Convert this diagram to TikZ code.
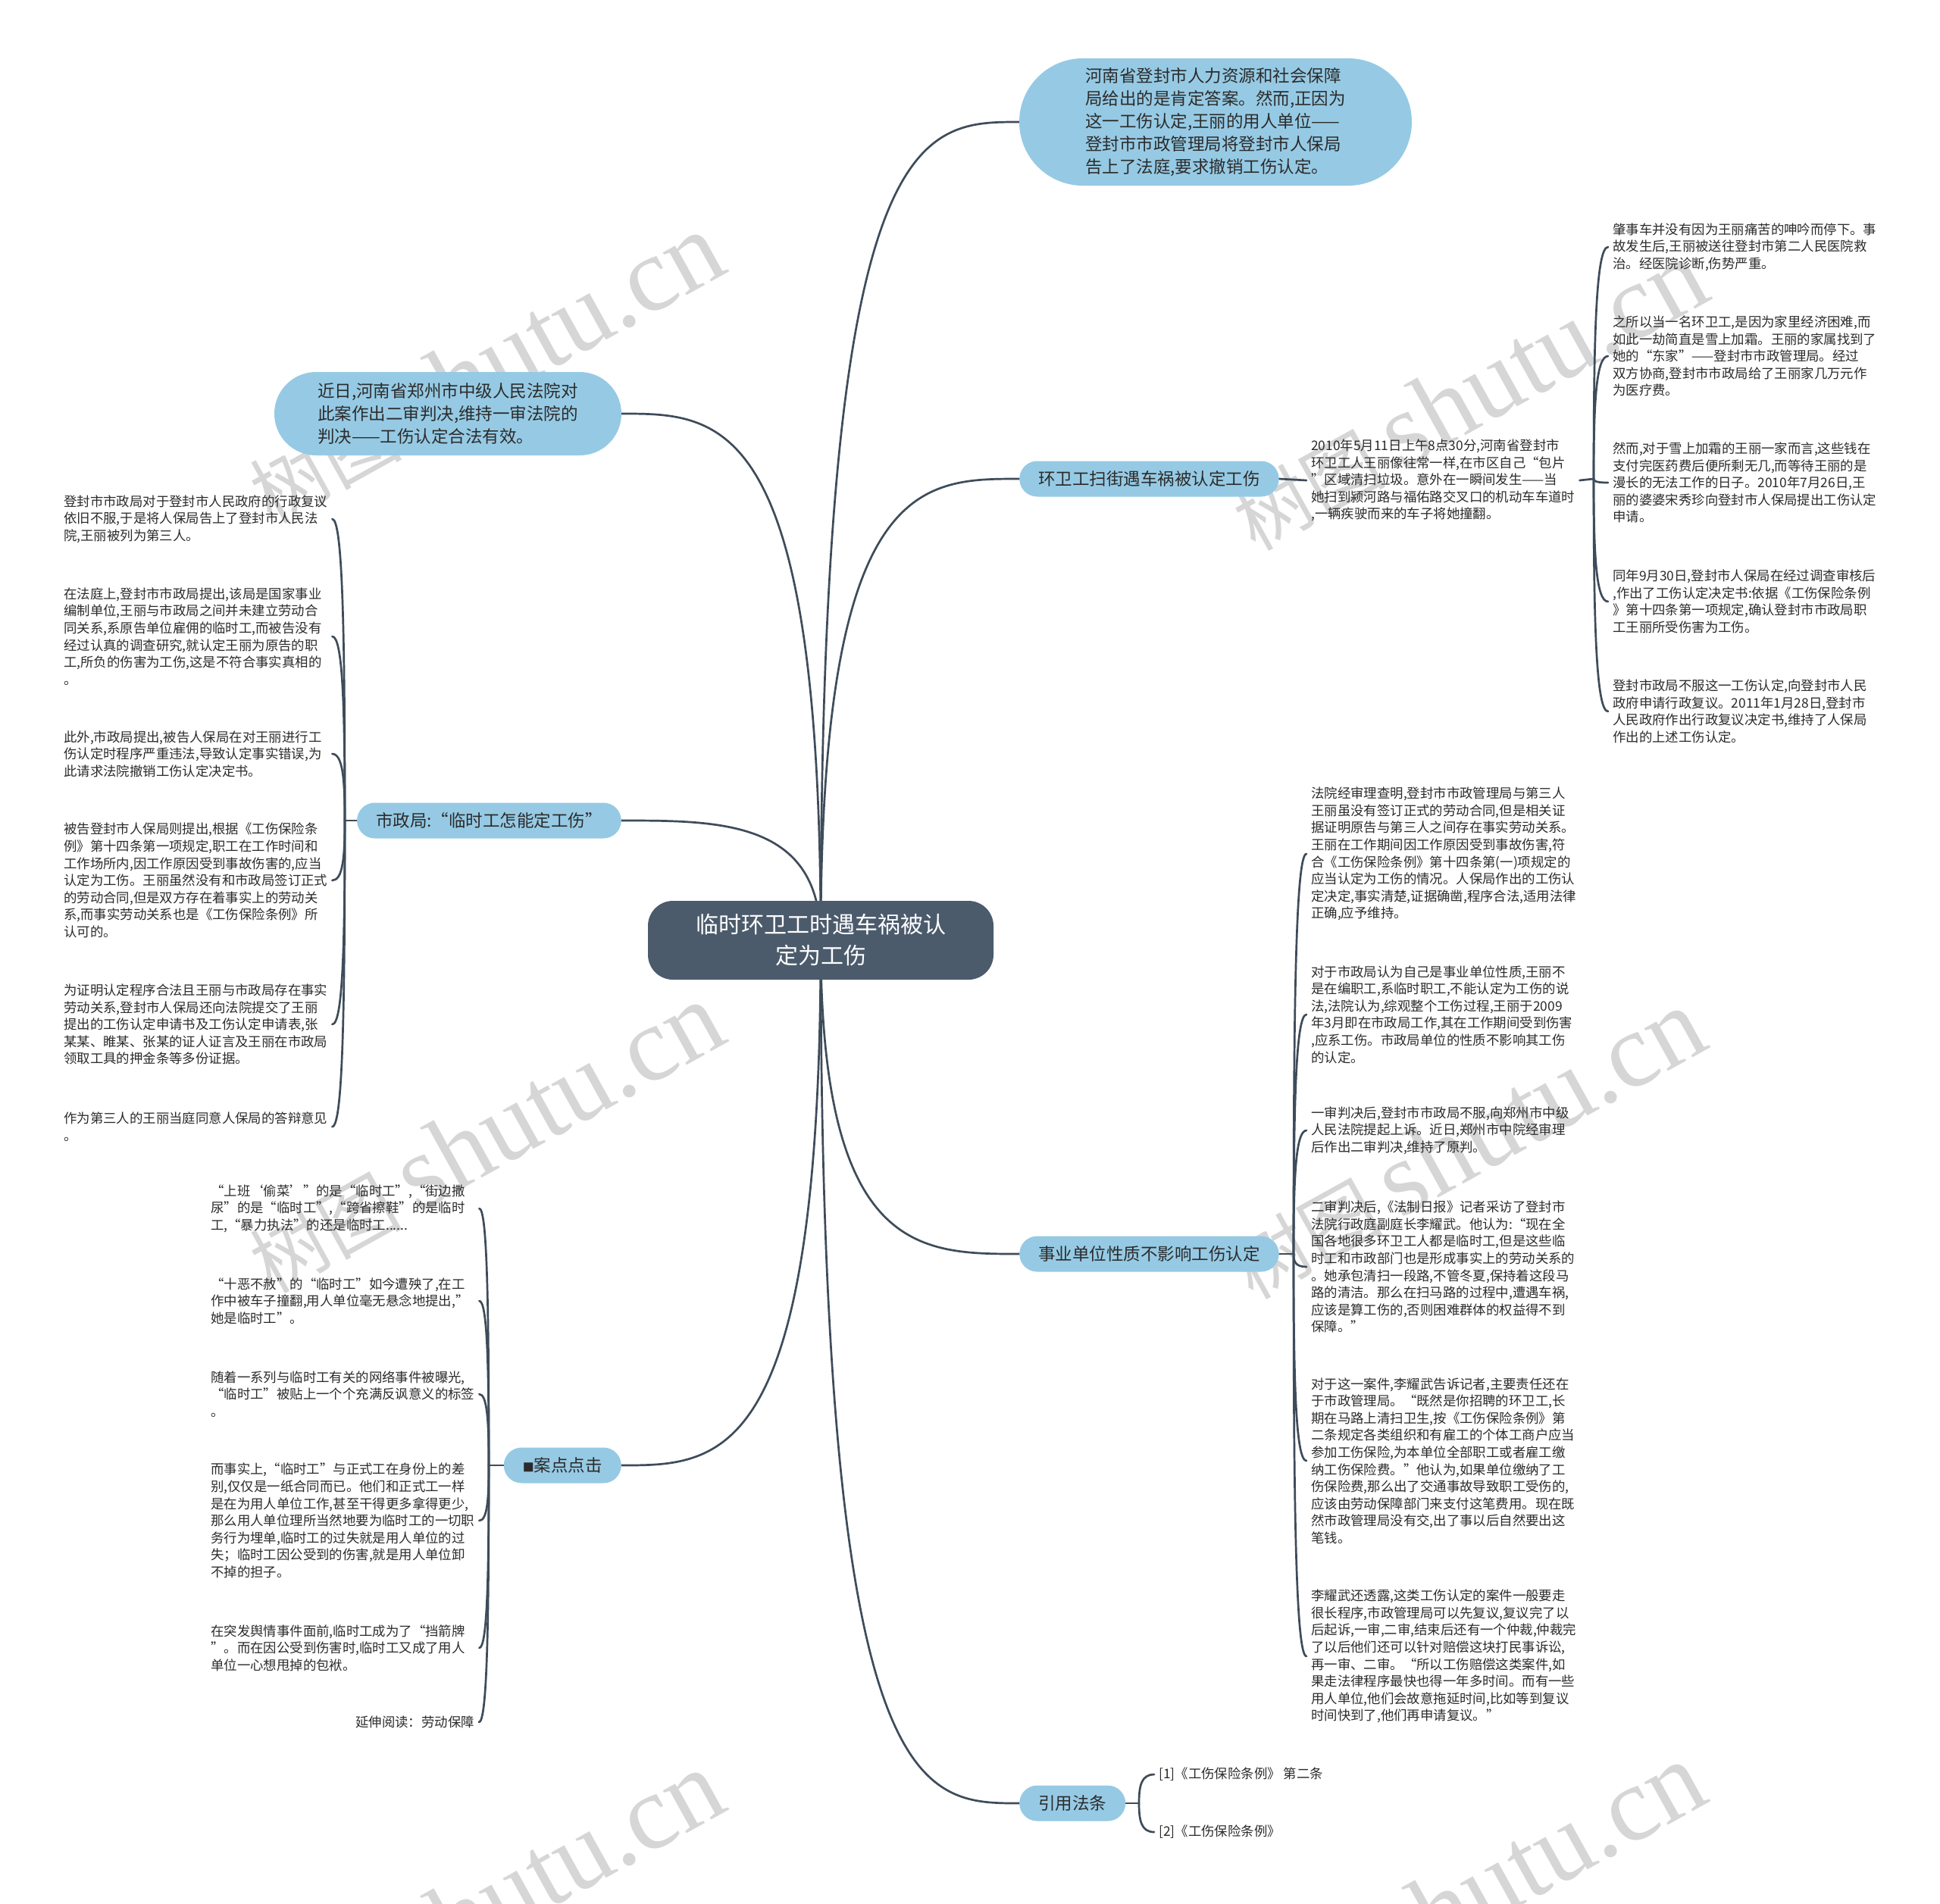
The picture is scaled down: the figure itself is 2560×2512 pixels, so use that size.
\documentclass[tikz,border=0pt]{standalone}
\usepackage{fontspec}
\setmainfont{Noto Sans CJK SC}
\newfontfamily\wmserif{Liberation Serif}
\usetikzlibrary{calc}
\pgfdeclarelayer{bottom}
\pgfdeclarelayer{bg}
\pgfsetlayers{bottom,bg,main}
\definecolor{bubble}{HTML}{96CAE4}
\definecolor{rootfill}{HTML}{4B5B6C}
\definecolor{linec}{HTML}{3E4C5A}
\definecolor{txt}{HTML}{2B2B2B}
\definecolor{wm}{HTML}{D6D6D6}
\tikzset{
  rootnode/.style={fill=rootfill, text=white, rounded corners=33pt, minimum width=456pt, minimum height=104pt, align=center, inner sep=0pt, font=\fontsize{30pt}{41pt}\selectfont},
  bignode/.style={fill=bubble, text=txt, align=left, inner sep=0pt, font=\fontsize{22.5pt}{30pt}\selectfont},
  branch/.style={fill=bubble, text=txt, rounded corners=23.5pt, minimum height=47pt, inner xsep=25pt, inner ysep=0pt, font=\fontsize{22.5pt}{27pt}\selectfont},
  leaf/.style={text=txt, align=left, text width=348pt, inner xsep=6pt, inner ysep=3pt, font=\fontsize{17.4pt}{22.6pt}\selectfont},
  leafplain/.style={text=txt, inner xsep=6pt, inner ysep=3pt, font=\fontsize{17.4pt}{22.6pt}\selectfont},
  link/.style={draw=linec, line width=2.7pt, line cap=round},
  wmark/.style={text=wm, rotate=29, inner sep=0pt},
}
\newcommand\rootlink[1]{\draw[link] (root.center) .. controls (root.center |- #1) and ($(root.center |- #1)!0.5!(#1)$) .. (#1);}
\newcommand\hooklink[2]{\draw[link] (#1) .. controls ($(#1)!0.6!(#1 |- #2)$) and ($(#1 |- #2)!0.15!(#2)$) .. (#2);}
\newcommand\wmtext{{\fontsize{100pt}{100pt}\selectfont 树图}\hspace{22pt}{\wmserif\fontsize{140pt}{140pt}\selectfont shutu.cn}}
\begin{document}
\begin{tikzpicture}[x=1pt,y=-1pt]
\useasboundingbox (0,0) rectangle (2560,2512);
\begin{pgfonlayer}{bottom}
\fill[white] (0,0) rectangle (2560,2512);
\node[wmark] (w1) at (640,486) {\wmtext};
\node[wmark] (w2) at (1938,522) {\wmtext};
\node[wmark] (w3) at (640,1502) {\wmtext};
\node[wmark] (w4) at (1935,1510) {\wmtext};
\node[wmark] (w5) at (640,2516) {\wmtext};
\node[wmark] (w6) at (1935,2505) {\wmtext};
\end{pgfonlayer}

% root and main branches
\node[rootnode] (root) at (1083,1241) {临时环卫工时遇车祸被认\\定为工伤};
\node[bignode, minimum width=518pt, minimum height=168pt, rounded corners=84pt] (top) at (1604,161) {河南省登封市人力资源和社会保障\\局给出的是肯定答案。然而,正因为\\这一工伤认定,王丽的用人单位——\\登封市市政管理局将登封市人保局\\告上了法庭,要求撤销工伤认定。};
\node[bignode, minimum width=458pt, minimum height=110pt, rounded corners=55pt] (lb) at (591,546) {近日,河南省郑州市中级人民法院对\\此案作出二审判决,维持一审法院的\\判决——工伤认定合法有效。};
\node[branch, anchor=west] (b1) at (1345,632) {环卫工扫街遇车祸被认定工伤};
\node[branch, anchor=east] (b2) at (820,1083) {市政局:“临时工怎能定工伤”};
\node[branch, anchor=west] (b3) at (1345,1655) {事业单位性质不影响工伤认定};
\node[branch, anchor=east] (b4) at (820,1934) {{\fontsize{15pt}{15pt}\selectfont ■}案点点击};
\node[branch, anchor=west] (b5) at (1345,2380) {引用法条};

% branch 1
\node[leaf, anchor=west] (a) at (1724,634) {2010年5月11日上午8点30分,河南省登封市\\环卫工人王丽像往常一样,在市区自己“包片\\”区域清扫垃圾。意外在一瞬间发生——当\\她扫到颍河路与福佑路交叉口的机动车车道时\\,一辆疾驶而来的车子将她撞翻。};
\coordinate (jA) at (2103,632);
\node[leaf, anchor=west] (r1) at (2122,326) {肇事车并没有因为王丽痛苦的呻吟而停下。事\\故发生后,王丽被送往登封市第二人民医院救\\治。经医院诊断,伤势严重。};
\node[leaf, anchor=west] (r2) at (2122,470) {之所以当一名环卫工,是因为家里经济困难,而\\如此一劫简直是雪上加霜。王丽的家属找到了\\她的“东家”——登封市市政管理局。经过\\双方协商,登封市市政局给了王丽家几万元作\\为医疗费。};
\node[leaf, anchor=west] (r3) at (2122,637) {然而,对于雪上加霜的王丽一家而言,这些钱在\\支付完医药费后便所剩无几,而等待王丽的是\\漫长的无法工作的日子。2010年7月26日,王\\丽的婆婆宋秀珍向登封市人保局提出工伤认定\\申请。};
\node[leaf, anchor=west] (r4) at (2122,794) {同年9月30日,登封市人保局在经过调查审核后\\,作出了工伤认定决定书:依据《工伤保险条例\\》第十四条第一项规定,确认登封市市政局职\\工王丽所受伤害为工伤。};
\node[leaf, anchor=west] (r5) at (2122,939) {登封市政局不服这一工伤认定,向登封市人民\\政府申请行政复议。2011年1月28日,登封市\\人民政府作出行政复议决定书,维持了人保局\\作出的上述工伤认定。};

% branch 2
\coordinate (jB) at (455,1083);
\node[leaf, anchor=west] (l1) at (78,685) {登封市市政局对于登封市人民政府的行政复议\\依旧不服,于是将人保局告上了登封市人民法\\院,王丽被列为第三人。};
\node[leaf, anchor=west] (l2) at (78,840) {在法庭上,登封市市政局提出,该局是国家事业\\编制单位,王丽与市政局之间并未建立劳动合\\同关系,系原告单位雇佣的临时工,而被告没有\\经过认真的调查研究,就认定王丽为原告的职\\工,所负的伤害为工伤,这是不符合事实真相的\\。};
\node[leaf, anchor=west] (l3) at (78,995) {此外,市政局提出,被告人保局在对王丽进行工\\伤认定时程序严重违法,导致认定事实错误,为\\此请求法院撤销工伤认定决定书。};
\node[leaf, anchor=west] (l4) at (78,1162) {被告登封市人保局则提出,根据《工伤保险条\\例》第十四条第一项规定,职工在工作时间和\\工作场所内,因工作原因受到事故伤害的,应当\\认定为工伤。王丽虽然没有和市政局签订正式\\的劳动合同,但是双方存在着事实上的劳动关\\系,而事实劳动关系也是《工伤保险条例》所\\认可的。};
\node[leaf, anchor=west] (l5) at (78,1352) {为证明认定程序合法且王丽与市政局存在事实\\劳动关系,登封市人保局还向法院提交了王丽\\提出的工伤认定申请书及工伤认定申请表,张\\某某、睢某、张某的证人证言及王丽在市政局\\领取工具的押金条等多份证据。};
\node[leaf, anchor=west] (l6) at (78,1487) {作为第三人的王丽当庭同意人保局的答辩意见\\。};

% branch 3
\coordinate (jC) at (1707,1655);
\node[leaf, anchor=west] (s1) at (1724,1127) {法院经审理查明,登封市市政管理局与第三人\\王丽虽没有签订正式的劳动合同,但是相关证\\据证明原告与第三人之间存在事实劳动关系。\\王丽在工作期间因工作原因受到事故伤害,符\\合《工伤保险条例》第十四条第(一)项规定的\\应当认定为工伤的情况。人保局作出的工伤认\\定决定,事实清楚,证据确凿,程序合法,适用法律\\正确,应予维持。};
\node[leaf, anchor=west] (s2) at (1724,1339) {对于市政局认为自己是事业单位性质,王丽不\\是在编职工,系临时职工,不能认定为工伤的说\\法,法院认为,综观整个工伤过程,王丽于2009\\年3月即在市政局工作,其在工作期间受到伤害\\,应系工伤。市政局单位的性质不影响其工伤\\的认定。};
\node[leaf, anchor=west] (s3) at (1724,1492) {一审判决后,登封市市政局不服,向郑州市中级\\人民法院提起上诉。近日,郑州市中院经审理\\后作出二审判决,维持了原判。};
\node[leaf, anchor=west] (s4) at (1724,1672) {二审判决后,《法制日报》记者采访了登封市\\法院行政庭副庭长李耀武。他认为:“现在全\\国各地很多环卫工人都是临时工,但是这些临\\时工和市政部门也是形成事实上的劳动关系的\\。她承包清扫一段路,不管冬夏,保持着这段马\\路的清洁。那么在扫马路的过程中,遭遇车祸,\\应该是算工伤的,否则困难群体的权益得不到\\保障。”};
\node[leaf, anchor=west] (s5) at (1724,1928) {对于这一案件,李耀武告诉记者,主要责任还在\\于市政管理局。“既然是你招聘的环卫工,长\\期在马路上清扫卫生,按《工伤保险条例》第\\二条规定各类组织和有雇工的个体工商户应当\\参加工伤保险,为本单位全部职工或者雇工缴\\纳工伤保险费。”他认为,如果单位缴纳了工\\伤保险费,那么出了交通事故导致职工受伤的,\\应该由劳动保障部门来支付这笔费用。现在既\\然市政管理局没有交,出了事以后自然要出这\\笔钱。};
\node[leaf, anchor=west] (s6) at (1724,2186) {李耀武还透露,这类工伤认定的案件一般要走\\很长程序,市政管理局可以先复议,复议完了以\\后起诉,一审,二审,结束后还有一个仲裁,仲裁完\\了以后他们还可以针对赔偿这块打民事诉讼,\\再一审、二审。“所以工伤赔偿这类案件,如\\果走法律程序最快也得一年多时间。而有一些\\用人单位,他们会故意拖延时间,比如等到复议\\时间快到了,他们再申请复议。”};

% branch 4
\coordinate (jD) at (645,1934);
\node[leaf, anchor=west] (c1) at (272,1595) {“上班‘偷菜’”的是“临时工”,“街边撒\\尿”的是“临时工”,“跨省擦鞋”的是临时\\工,“暴力执法”的还是临时工......};
\node[leaf, anchor=west] (c2) at (272,1717) {“十恶不赦”的“临时工”如今遭殃了,在工\\作中被车子撞翻,用人单位毫无悬念地提出,”\\她是临时工”。};
\node[leaf, anchor=west] (c3) at (272,1840) {随着一系列与临时工有关的网络事件被曝光,\\“临时工”被贴上一个个充满反讽意义的标签\\。};
\node[leaf, anchor=west] (c4) at (272,2007) {而事实上,“临时工”与正式工在身份上的差\\别,仅仅是一纸合同而已。他们和正式工一样\\是在为用人单位工作,甚至干得更多拿得更少,\\那么用人单位理所当然地要为临时工的一切职\\务行为埋单,临时工的过失就是用人单位的过\\失；临时工因公受到的伤害,就是用人单位卸\\不掉的担子。};
\node[leaf, anchor=west] (c5) at (272,2175) {在突发舆情事件面前,临时工成为了“挡箭牌\\”。而在因公受到伤害时,临时工又成了用人\\单位一心想甩掉的包袱。};
\node[leafplain, anchor=east] (c6) at (632,2273) {延伸阅读：劳动保障};

% branch 5
\coordinate (jE) at (1503,2380);
\node[leafplain, anchor=west] (q1) at (1523,2342) {[1]《工伤保险条例》 第二条};
\node[leafplain, anchor=west] (q2) at (1523,2418) {[2]《工伤保险条例》};

\begin{pgfonlayer}{bg}
\rootlink{top.west}
\rootlink{lb.east}
\rootlink{b1.west}
\rootlink{b2.east}
\rootlink{b3.west}
\rootlink{b4.east}
\rootlink{b5.west}
% branch 1
\draw[link] (b1.east) -- (a.west);
\draw[link] (a.east) -- (jA);
\hooklink{jA}{r1.west}
\hooklink{jA}{r2.west}
\hooklink{jA}{r3.west}
\hooklink{jA}{r4.west}
\hooklink{jA}{r5.west}
% branch 2
\draw[link] (b2.west) -- (jB);
\hooklink{jB}{l1.east}
\hooklink{jB}{l2.east}
\hooklink{jB}{l3.east}
\hooklink{jB}{l4.east}
\hooklink{jB}{l5.east}
\hooklink{jB}{l6.east}
% branch 3
\draw[link] (b3.east) -- (jC);
\hooklink{jC}{s1.west}
\hooklink{jC}{s2.west}
\hooklink{jC}{s3.west}
\hooklink{jC}{s4.west}
\hooklink{jC}{s5.west}
\hooklink{jC}{s6.west}
% branch 4
\draw[link] (b4.west) -- (jD);
\hooklink{jD}{c1.east}
\hooklink{jD}{c2.east}
\hooklink{jD}{c3.east}
\hooklink{jD}{c4.east}
\hooklink{jD}{c5.east}
\hooklink{jD}{c6.east}
% branch 5
\draw[link] (b5.east) -- (jE);
\hooklink{jE}{q1.west}
\hooklink{jE}{q2.west}
\end{pgfonlayer}
\end{tikzpicture}
\end{document}
